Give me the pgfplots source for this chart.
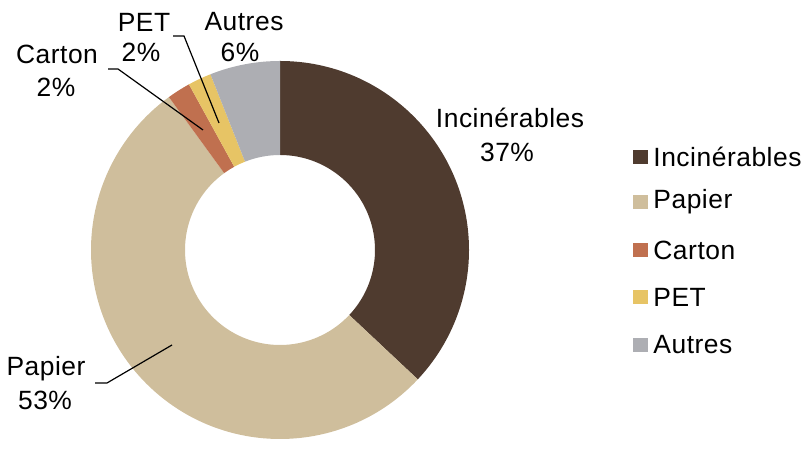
\documentclass[border=0pt]{standalone}
\usepackage{pgfplots}
\pgfplotsset{compat=1.18}
\usepackage{pgfplotstable}
\usepackage{fontspec}
\setmainfont[LetterSpace=2]{Liberation Sans}
\definecolor{c0}{HTML}{4F3B2F}
\definecolor{c1}{HTML}{CFBE9C}
\definecolor{c2}{HTML}{C0704F}
\definecolor{c3}{HTML}{E7C465}
\definecolor{c4}{HTML}{ADAEB3}
\pgfplotstableread{
value
37
53
2
2
6
}\datatable
% cx, cy in axis units (1 unit = 0.5pt)
\newcommand\slice[3]{%
  \fill[#3, shift={(axis cs:280,189)}] (#1:94.5pt) arc[start angle=#1, end angle=#2, radius=94.5pt]
     -- (#2:47.5pt) arc[start angle=#2, end angle=#1, radius=47.5pt] -- cycle;}
\newcommand\legitem[3]{%
  \fill[#2] (axis cs:633,#1-7) rectangle (axis cs:648,#1+7);
  \node[anchor=west] at (axis cs:653,#1) {#3};}
\def\slicecmds{}
\pgfmathsetmacro\cum{90}
\pgfplotsforeachungrouped \i in {0,...,4}{%
  \pgfplotstablegetelem{\i}{value}\of\datatable
  \pgfmathsetmacro\endang{\cum-3.6*\pgfplotsretval}%
  \xdef\slicecmds{\slicecmds\noexpand\slice{\cum}{\endang}{c\i}}%
  \global\let\cum\endang
}
\begin{document}
\begin{tikzpicture}[every node/.style={font=\fontsize{13.2}{15}\selectfont, text=black, inner sep=0pt}]
\begin{axis}[hide axis, scale only axis, width=404pt, height=219.5pt,
  xmin=0, xmax=808, ymin=0, ymax=439, clip=false]
\path (axis cs:0,0) rectangle (axis cs:808,439);
\slicecmds
% data labels
\node at (axis cs:510,321) {Incinérables};
\node at (axis cs:507,287) {37\%};
\node at (axis cs:46,70) {Papier};
\node at (axis cs:45,39) {53\%};
\node at (axis cs:57,385) {Carton};
\node at (axis cs:56,352) {2\%};
\node at (axis cs:144,417) {PET};
\node at (axis cs:141,387) {2\%};
\node at (axis cs:244,417) {Autres};
\node at (axis cs:240,387) {6\%};
% leader lines
\draw[line width=0.6pt] (axis cs:108,370) -- (axis cs:118,370) -- (axis cs:203,309);
\draw[line width=0.6pt] (axis cs:173,403) -- (axis cs:184,403) -- (axis cs:219,316);
\draw[line width=0.6pt] (axis cs:95,56) -- (axis cs:107,56) -- (axis cs:172,94);
% legend
\legitem{282}{c0}{Incinérables}
\legitem{237}{c1}{Papier}
\legitem{189}{c2}{Carton}
\legitem{142}{c3}{PET}
\legitem{94}{c4}{Autres}
\end{axis}
\end{tikzpicture}
\end{document}
